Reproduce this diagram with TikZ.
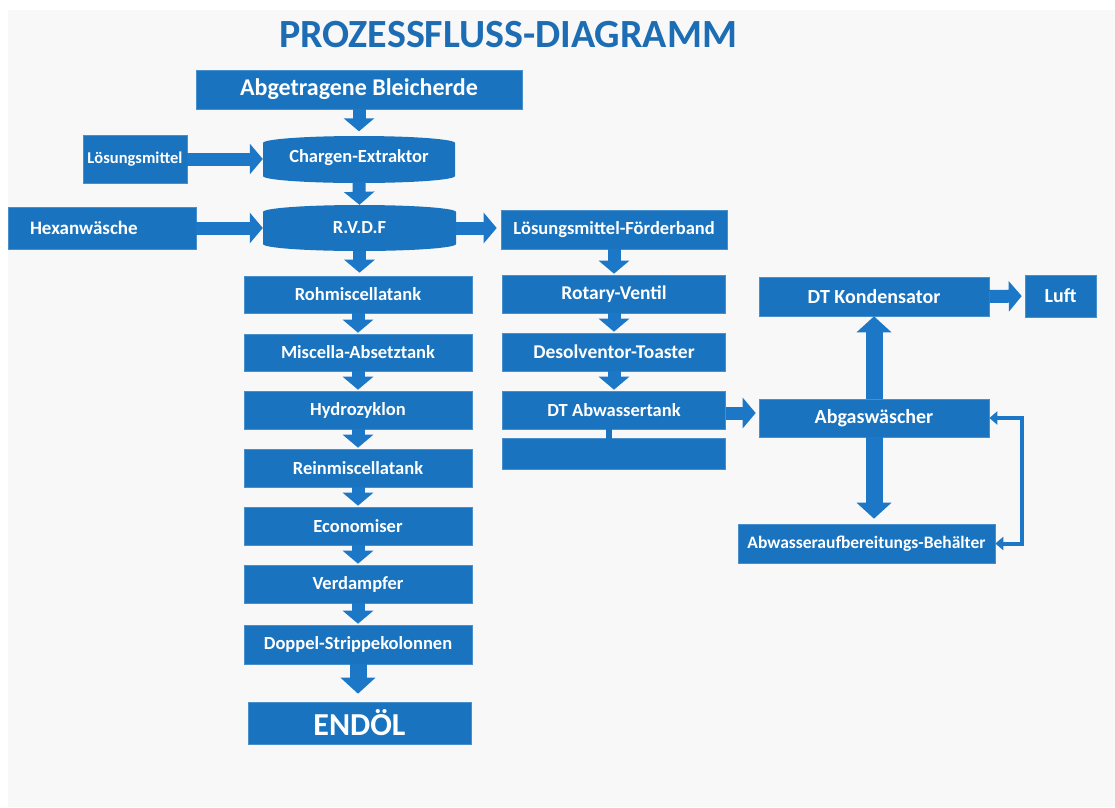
\documentclass[tikz,border=0pt]{standalone}
\usepackage{fontspec}
\setmainfont{Carlito}
\usetikzlibrary{arrows.meta}
\definecolor{boxblue}{HTML}{1A73BE}
\definecolor{arrowblue}{HTML}{1C78C6}
\definecolor{titleblue}{HTML}{1C6DB4}
\definecolor{paper}{HTML}{F8F8F8}
\tikzset{
  box/.style={fill=boxblue, draw=boxblue!80!white, line width=0.6pt, text=white,
    font=\bfseries\fontsize{18.5}{20}\selectfont, inner sep=0pt, anchor=center},
  label box/.style={text=white, font=\bfseries\fontsize{18.5}{20}\selectfont, inner sep=0pt},
  big text/.style={font=\bfseries\fontsize{19.5}{21}\selectfont},
  flow/.style={draw=arrowblue, line width=13pt,
    -{Triangle[width=30pt,length=13pt]}},
  bigflow/.style={draw=arrowblue, line width=17pt,
    -{Triangle[width=34pt,length=16pt]}},
  backflow/.style={draw=arrowblue, line width=4pt,
    {Triangle[width=13pt,length=8pt]}-{Triangle[width=13pt,length=8pt]}},
}
% horizontal tank: left x, right x, top y, bottom y
\newcommand\tankshape[4]{%
  \pgfmathsetmacro\tankr{(#2-#1)/2}%
  \fill[boxblue] (#1,#3+7) arc[start angle=180,end angle=0,x radius=\tankr pt,y radius=7pt]
    -- (#2,#4-7) arc[start angle=0,end angle=-180,x radius=\tankr pt,y radius=7pt] -- cycle;}
\begin{document}
\begin{tikzpicture}[x=1pt,y=-1pt]
\useasboundingbox (0,0) rectangle (1115,807);
\fill[white] (0,0) rectangle (1115,807);
\fill[paper] (8,10) rectangle (1115,807);

\node[text=titleblue, font=\bfseries\fontsize{40}{44}\selectfont, inner sep=0pt] (title) at (508,35) {PROZESSFLUSS-DIAGRAMM};

% feed and extraction
\node[box, minimum width=326pt, minimum height=39pt, font=\bfseries\fontsize{24}{26}\selectfont] (bleich) at (359,89.5) {Abgetragene Bleicherde};
\node[box, minimum width=104pt, minimum height=48pt, font=\bfseries\fontsize{16.5}{18}\selectfont] (loes) at (135,159) {Lösungsmittel};
\tankshape{263}{455}{136}{183}
\node[label box, minimum width=192pt, minimum height=47pt] (charg) at (359,158) {Chargen-Extraktor};
\node[box, minimum width=188pt, minimum height=42pt, text width=144pt, align=left, font=\bfseries\fontsize{19}{21}\selectfont] (hexan) at (102,228) {Hexanwäsche};
\tankshape{263}{456}{205}{251}
\node[label box, minimum width=193pt, minimum height=46pt] (rvdf) at (359.5,228) {R.V.D.F};

% miscella line
\node[box, minimum width=228pt, minimum height=37pt] (roh) at (358,294.5) {Rohmiscellatank};
\node[box, minimum width=228pt, minimum height=37pt] (absetz) at (358,352.5) {Miscella-Absetztank};
\node[box, minimum width=228pt, minimum height=38pt] (hydro) at (358,410) {Hydrozyklon};
\node[box, minimum width=228pt, minimum height=38pt] (rein) at (358,468) {Reinmiscellatank};
\node[box, minimum width=228pt, minimum height=38pt] (econ) at (358,526) {Economiser};
\node[box, minimum width=228pt, minimum height=38pt] (verd) at (358,584) {Verdampfer};
\node[box, minimum width=228pt, minimum height=39pt] (doppel) at (358,644.5) {Doppel-Strippekolonnen};
\node[box, minimum width=223pt, minimum height=42pt, font=\bfseries\fontsize{32}{34}\selectfont] (endoel) at (359.5,723) {ENDÖL};

% meal line
\node[box, minimum width=226pt, minimum height=39pt] (foerd) at (614,229.5) {Lösungsmittel-Förderband};
\node[box, big text, minimum width=223pt, minimum height=38pt] (rotary) at (614,294) {Rotary-Ventil};
\node[box, big text, minimum width=223pt, minimum height=38pt] (desolv) at (614,352) {Desolventor-Toaster};
\node[box, minimum width=223pt, minimum height=38pt] (dtab) at (614,410) {DT Abwassertank};
\node[box, minimum width=223pt, minimum height=31pt] (sump) at (614,453.5) {};
\fill[boxblue] (606,428) rectangle (612,439);

% vapour and waste water
\node[box, big text, minimum width=230pt, minimum height=39pt, font=\bfseries\fontsize{20}{22}\selectfont] (kond) at (874,296.5) {DT Kondensator};
\node[box, minimum width=71pt, minimum height=42pt, font=\bfseries\fontsize{20}{22}\selectfont] (luft) at (1060.5,296) {Luft};
\node[box, minimum width=230pt, minimum height=38pt, font=\bfseries\fontsize{20}{22}\selectfont] (abgas) at (874,418) {Abgaswäscher};
\node[box, minimum width=257pt, minimum height=39pt, font=\bfseries\fontsize{17.5}{19}\selectfont] (behael) at (866.5,543.5) {Abwasseraufbereitungs-Behälter};

% connectors
\draw[flow, shorten >=3pt] (bleich.south) -- (charg.north);
\draw[flow] (loes.east) -- (loes.east -| charg.west);
\draw[flow] (charg.south) -- (rvdf.north);
\draw[flow] (hexan.east) -- (rvdf.west);
\draw[flow, shorten >=4pt] (rvdf.east) -- (rvdf.east -| foerd.west);
\draw[flow, shorten >=3pt] (rvdf.south) -- (rvdf.south |- roh.north);
\foreach \a/\b in {roh/absetz, absetz/hydro, hydro/rein, rein/econ, econ/verd, verd/doppel}
  \draw[flow, shorten >=1pt] (\a.south) -- (\b.north);
\draw[bigflow, shorten >=8pt] (doppel.south) -- (doppel.south |- endoel.north);
\foreach \a/\b in {foerd/rotary, rotary/desolv, desolv/dtab}
  \draw[flow, shorten >=1pt] (\a.south) -- (\b.north);
\draw[flow, shorten >=3pt] ([yshift=-3pt]dtab.east) -- ([yshift=-3pt]dtab.east -| abgas.west);
\draw[flow, shorten >=3pt] (kond.east) -- (luft.west);
\draw[bigflow] (abgas.north) -- (kond.south);
\draw[bigflow, shorten >=5pt] (abgas.south) -- (abgas.south |- behael.north);
\draw[backflow] (behael.east) -- ++(27,0) |- (abgas.east);
\end{tikzpicture}
\end{document}
